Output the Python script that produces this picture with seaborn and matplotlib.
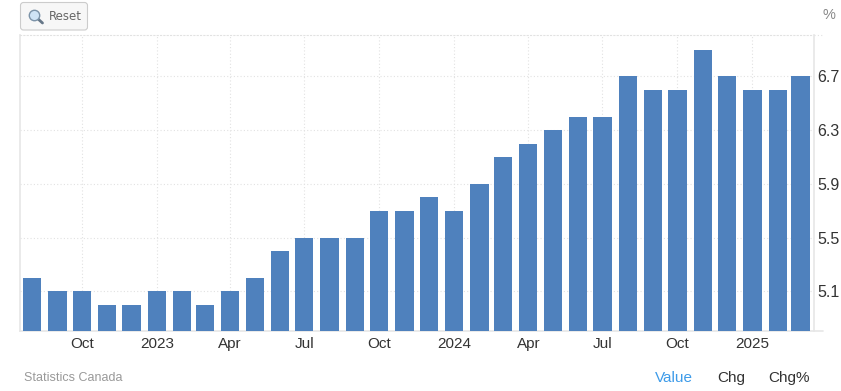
import matplotlib
matplotlib.use("Agg")
import matplotlib.pyplot as plt
import matplotlib.dates as mdates
from matplotlib.patches import FancyBboxPatch
from matplotlib.lines import Line2D
import pandas as pd
import seaborn as sns

# monthly values
months = pd.date_range("2022-08-01", "2025-03-01", freq="MS")
values = [5.2, 5.1, 5.1, 5.0, 5.0, 5.1, 5.1, 5.0, 5.1, 5.2, 5.4, 5.5,
          5.5, 5.5, 5.7, 5.7, 5.8, 5.7, 5.9, 6.1, 6.2, 6.3, 6.4, 6.4,
          6.7, 6.6, 6.6, 6.9, 6.7, 6.6, 6.6, 6.7]
y_ticks = [5.1, 5.5, 5.9, 6.3, 6.7]
x_tick_dates = ["2022-10-01", "2023-01-01", "2023-04-01", "2023-07-01", "2023-10-01",
                "2024-01-01", "2024-04-01", "2024-07-01", "2024-10-01", "2025-01-01"]
x_tick_labels = ["Oct", "2023", "Apr", "Jul", "Oct", "2024", "Apr", "Jul", "Oct", "2025"]

W, H = 841, 391
BAR = "#4f81bd"
GRID = "#e2e2e2"
AXIS = "#e6e6e6"
TEXT = "#333333"

sns.set_theme(style="white")
plt.rcParams["font.family"] = ["Liberation Sans", "DejaVu Sans"]

df = pd.DataFrame({"x": mdates.date2num(months), "value": values})

fig = plt.figure(figsize=(W / 100, H / 100), dpi=100)
ax = fig.add_axes([20 / W, 1 - 331 / H, (813.5 - 20) / W, (331 - 35) / H])

sns.barplot(data=df, x="x", y="value", native_scale=True, color=BAR, saturation=1,
            width=0.8, linewidth=0, ax=ax, zorder=3)

ax.set_xlim(mdates.date2num(pd.Timestamp("2022-07-17")), mdates.date2num(pd.Timestamp("2025-03-17")))
ax.set_ylim(4.804, 7.008)
ax.set_xlabel("")
ax.set_ylabel("")

ax.set_xticks(mdates.date2num(pd.to_datetime(x_tick_dates)))
ax.set_xticklabels(x_tick_labels)
ax.yaxis.tick_right()
ax.set_yticks(y_ticks)
ax.set_yticklabels([f"{v:.1f}" for v in y_ticks])
ax.tick_params(axis="x", length=0, labelsize=11, labelcolor=TEXT, pad=4)
ax.tick_params(axis="y", length=0, labelsize=11.5, labelcolor=TEXT, pad=3)

ax.grid(True, axis="both", color=GRID, linestyle=(0, (1, 2)), linewidth=0.8, zorder=0)
ax.set_axisbelow(True)

for side in ["left", "bottom", "right"]:
    ax.spines[side].set_visible(True)
    ax.spines[side].set_color(AXIS)
    ax.spines[side].set_linewidth(1.2)
ax.spines["top"].set_visible(True)
ax.spines["top"].set_color(GRID)
ax.spines["top"].set_linestyle((0, (1, 2)))
ax.spines["top"].set_linewidth(0.8)

# axis lines run a little past the right edge
fig.add_artist(Line2D([813.5 / W, 823 / W], [1 - 331 / H, 1 - 331 / H], color=AXIS, lw=1.2))
fig.add_artist(Line2D([813.5 / W, 823 / W], [1 - 35 / H, 1 - 35 / H], color=GRID, lw=0.8, ls=(0, (1, 2))))

# reset button
btn = FancyBboxPatch((20.5, H - 30), 67, 27.5, boxstyle="round,pad=0,rounding_size=3",
                     transform=None, facecolor="#f7f7f7", edgecolor="#cccccc", lw=0.8)
fig.add_artist(btn)
fig.add_artist(Line2D([37 / W, 42.5 / W], [1 - 18 / H, 1 - 23 / H], color="#667788", lw=2, solid_capstyle="round"))
fig.add_artist(Line2D([34 / W], [1 - 15 / H], marker="o", markersize=7.5, markerfacecolor="#cfe3f5",
                      markeredgecolor="#7c93a8", markeredgewidth=1, linestyle="none"))
fig.text(49 / W, 1 - 17 / H, "Reset", family="DejaVu Sans", fontsize=8.5, color="#666666", va="center", ha="left")

fig.text(829 / W, 1 - 15 / H, "%", fontsize=10.5, color="#888888", ha="center", va="center")
fig.text(24.5 / W, 1 - 378 / H, "Statistics Canada", fontsize=9, color="#999999", ha="left", va="center")
fig.text(673.5 / W, 1 - 378 / H, "Value", fontsize=11, color="#3d9be9", ha="center", va="center")
fig.text(731 / W, 1 - 378 / H, "Chg", fontsize=11, color=TEXT, ha="center", va="center")
fig.text(789 / W, 1 - 378 / H, "Chg%", fontsize=11, color=TEXT, ha="center", va="center")

fig.savefig("out.png", dpi=100)
